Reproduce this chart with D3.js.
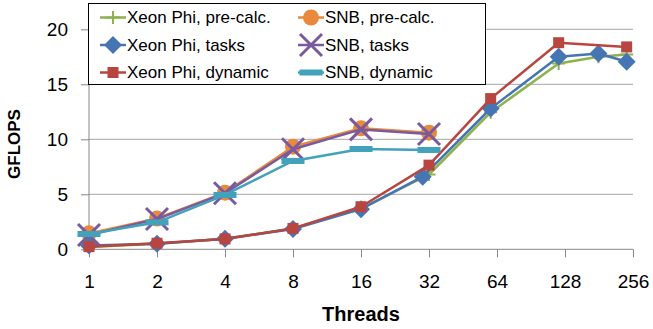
<!doctype html>
<html lang="en">
<head>
  <meta charset="utf-8">
  <title>GFLOPS vs Threads</title>
</head>
<style>
html, body, svg {
    margin: 0;
    padding: 0;
    border: 0;
}
body { background: #fff; }
text { font-family: "Liberation Sans", Arial, sans-serif; fill: #000; }
</style>
<body>
  <svg></svg>
</body>
<script src="https://cdnjs.cloudflare.com/ajax/libs/d3/7.8.5/d3.min.js"></script>
<script type="text/javascript">
    // tick labels
    var x_ticks = [1, 2, 4, 8, 16, 32, 64, 128, 256];
    var y_ticks = [0, 5, 10, 15, 20];

    // series (threads, GFLOPS)
    var xp_pre_threads = [1, 2, 4, 8, 16, 32, 60, 120, 180, 240];
    var xp_pre_values  = [0.2, 0.5, 0.95, 1.9, 3.7, 6.8, 12.45, 16.9, 17.5, 17.7];

    var xp_tasks_threads = [1, 2, 4, 8, 16, 30, 60, 120, 180, 240];
    var xp_tasks_values  = [0.35, 0.5, 0.95, 1.85, 3.65, 6.6, 12.8, 17.5, 17.8, 17.05];

    var xp_dyn_threads = [1, 2, 4, 8, 16, 32, 60, 120, 240];
    var xp_dyn_values  = [0.24, 0.55, 0.94, 1.9, 3.87, 7.65, 13.7, 18.78, 18.4];

    var snb_threads = [1, 2, 4, 8, 16, 32];
    var snb_pre_values   = [1.45, 2.8, 5.15, 9.33, 11.0, 10.6];
    var snb_tasks_values = [1.3, 2.75, 5.1, 9.09, 10.9, 10.48];
    var snb_dyn_values   = [1.39, 2.45, 4.94, 8.03, 9.12, 9.03];

    var series = [
      {name: "Xeon Phi, pre-calc.", x: xp_pre_threads, y: xp_pre_values, color: "#8DB24E", marker: "plus"},
      {name: "SNB, pre-calc.", x: snb_threads, y: snb_pre_values, color: "#E8893C", marker: "circle"},
      {name: "Xeon Phi, tasks", x: xp_tasks_threads, y: xp_tasks_values, color: "#4675B3", marker: "diamond"},
      {name: "SNB, tasks", x: snb_threads, y: snb_tasks_values, color: "#7A5A9F", marker: "cross"},
      {name: "Xeon Phi, dynamic", x: xp_dyn_threads, y: xp_dyn_values, color: "#B8453F", marker: "square"},
      {name: "SNB, dynamic", x: snb_threads, y: snb_dyn_values, color: "#42A2BB", marker: "dash"}
    ];

    var w = 653, h = 329;
    var svg = d3.select("svg").attr("width", w).attr("height", h);

    var x = d3.scaleLog().base(2).domain([1, 256]).range([89, 633]);
    var y = d3.scaleLinear().domain([0, 20]).range([249.3, 29.3]);

    // gridlines
    svg.append("g").selectAll("line")
      .data(y_ticks.filter(function(d){ return d > 0; }))
      .enter().append("line")
      .attr("x1", 89).attr("x2", 633)
      .attr("y1", function(d){ return y(d); })
      .attr("y2", function(d){ return y(d); })
      .attr("stroke", "#A6A6A6").attr("stroke-width", 1);

    // y axis
    var yAxis = d3.axisLeft(y).tickValues(y_ticks).tickSize(8).tickPadding(13);
    var gy = svg.append("g").attr("transform", "translate(89,0)").call(yAxis);
    gy.select(".domain").attr("stroke", "#868686").attr("d", "M0," + y(20) + "V" + y(0));
    gy.selectAll(".tick line").attr("stroke", "#868686");
    gy.selectAll(".tick text").style("font-size", "19px").attr("fill", "#000");

    // x axis
    var xAxis = d3.axisBottom(x).tickValues(x_ticks).tickFormat(d3.format("d"))
      .tickSize(8).tickPadding(17);
    var gx = svg.append("g").attr("transform", "translate(0," + y(0) + ")").call(xAxis);
    gx.select(".domain").attr("stroke", "#868686").attr("d", "M89,0H633");
    gx.selectAll(".tick line").attr("stroke", "#868686");
    gx.selectAll(".tick text").style("font-size", "19px").attr("fill", "#000");

    // axis titles
    svg.append("text")
      .attr("x", 361).attr("y", 321)
      .attr("text-anchor", "middle")
      .style("font-size", "20px").style("font-weight", "bold")
      .text("Threads");
    svg.append("text")
      .attr("transform", "translate(20,144) rotate(-90)")
      .attr("text-anchor", "middle")
      .style("font-size", "17px").style("font-weight", "bold")
      .text("GFLOPS");

    function drawMarker(g, type, color) {
      if (type == "plus") {
        g.append("path").attr("d", "M-6.5,0H6.5M0,-6.5V6.5")
          .attr("stroke", color).attr("stroke-width", 2).attr("fill", "none");
      } else if (type == "circle") {
        g.append("circle").attr("r", 8).attr("fill", color);
      } else if (type == "diamond") {
        g.append("path").attr("d", "M0,-9L9,0L0,9L-9,0Z").attr("fill", color);
      } else if (type == "cross") {
        g.append("path").attr("d", "M-11,-11L11,11M-11,11L11,-11")
          .attr("stroke", color).attr("stroke-width", 3).attr("fill", "none");
      } else if (type == "square") {
        g.append("rect").attr("x", -5.5).attr("y", -5.5).attr("width", 11).attr("height", 11)
          .attr("fill", color);
      } else if (type == "dash") {
        g.append("rect").attr("x", -11.5).attr("y", -3).attr("width", 23).attr("height", 6)
          .attr("fill", color);
      }
    }

    var line = d3.line()
      .x(function(d){ return x(d[0]); })
      .y(function(d){ return y(d[1]); });

    series.forEach(function(s) {
      var pts = d3.zip(s.x, s.y);
      var g = svg.append("g");
      g.append("path").datum(pts)
        .attr("d", line)
        .attr("fill", "none")
        .attr("stroke", s.color)
        .attr("stroke-width", 2.5)
        .attr("stroke-linejoin", "round");
      pts.forEach(function(p) {
        var m = g.append("g").attr("transform", "translate(" + x(p[0]) + "," + y(p[1]) + ")");
        drawMarker(m, s.marker, s.color);
      });
    });

    // legend
    var legend = svg.append("g");
    legend.append("rect")
      .attr("x", 88.5).attr("y", 3.5).attr("width", 397).attr("height", 81)
      .attr("fill", "#fff").attr("stroke", "#000").attr("stroke-width", 1);

    series.forEach(function(s, i) {
      var col = i % 2, row = Math.floor(i / 2);
      var lx = col == 0 ? 100 : 298;
      var ly = 17.5 + row * 27.5;
      var item = legend.append("g").attr("transform", "translate(" + lx + "," + ly + ")");
      item.append("line").attr("x1", 0).attr("x2", 26).attr("y1", 0).attr("y2", 0)
        .attr("stroke", s.color).attr("stroke-width", 2.5);
      var m = item.append("g").attr("transform", "translate(13,0)");
      drawMarker(m, s.marker, s.color);
      item.append("text")
        .attr("x", 27).attr("y", 0)
        .attr("dy", "0.35em")
        .style("font-size", "17px")
        .text(s.name);
    });
</script>
</html>
